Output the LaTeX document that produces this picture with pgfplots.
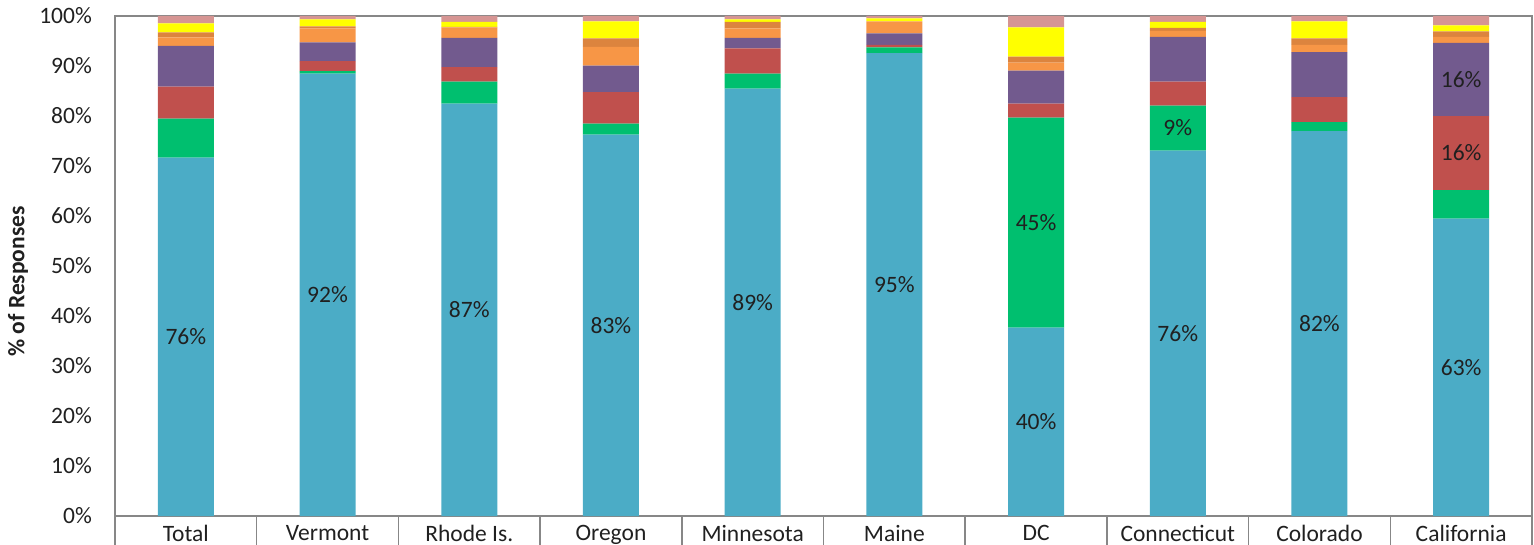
\documentclass[border=0pt]{standalone}
\usepackage{pgfplots}
\pgfplotsset{compat=1.18}
\usepackage{pgfplotstable}
\usepackage{fontspec}
\setmainfont{Carlito}
\definecolor{cblue}{HTML}{4BACC6}
\definecolor{cgreen}{HTML}{00BF6F}
\definecolor{cred}{HTML}{C0504D}
\definecolor{cpurple}{HTML}{725A8E}
\definecolor{clorange}{HTML}{F79646}
\definecolor{cdorange}{HTML}{DC843E}
\definecolor{cyellow}{HTML}{FFFF00}
\definecolor{cpink}{HTML}{D69593}
\definecolor{caxis}{HTML}{878787}
\definecolor{ctext}{HTML}{202020}
\pgfplotstableread{
x blue green red purple lorange dorange yellow pink
0 71.7 7.8  6.4  8.1  1.7 1.0 1.8 1.5
1 88.5 0.5  2.0  3.7  2.8 0.4 1.4 0.7
2 82.5 4.4  2.9  5.8  2.1 0.1 1.0 1.2
3 76.3 2.2  6.3  5.3  3.7 1.7 3.4 1.1
4 85.5 3.0  5.0  2.1  1.9 1.3 0.5 0.7
5 92.6 1.1  0.5  2.3  2.4 0.0 0.6 0.5
6 37.7 42.0 2.8  6.6  1.6 1.2 5.8 2.3
7 73.1 9.0  4.8  8.9  1.2 0.6 1.2 1.2
8 77.0 1.8  5.0  9.0  1.4 1.3 3.4 1.1
9 59.5 5.7  14.8 14.6 1.2 1.1 1.2 1.9
}\data
\begin{document}
\fontsize{23.5}{28}\selectfont
\begin{tikzpicture}
\begin{axis}[
  name=ax,
  scale only axis,
  width=1417pt, height=500pt,
  xmin=-0.5, xmax=9.5, ymin=0, ymax=100,
  ybar stacked,
  bar width=56pt,
  axis line style={draw=caxis, line width=1.5pt},
  ytick={0,10,...,100},
  yticklabels={0\%,10\%,20\%,30\%,40\%,50\%,60\%,70\%,80\%,90\%,100\%},
  ytick style={draw=none},
  xtick={-0.5,0.5,...,9.5},
  xticklabels={},
  xtick pos=bottom,
  xtick style={draw=caxis, line width=1.5pt},
  xtick align=outside,
  major tick length=60pt,
  yticklabel style={anchor=east, inner sep=0pt, xshift=-23pt, text=ctext},
  extra x ticks={0,1,2,3,4,5,6,7,8,9},
  extra x tick labels={Total,Vermont,Rhode Is.,Oregon,Minnesota,Maine,DC,Connecticut,Colorado,California},
  extra x tick style={major tick length=0pt, xticklabel style={anchor=north, inner sep=0pt, yshift=-9pt, text=ctext}},
  ylabel={\bfseries \% of Responses},
  ylabel style={at={(axis description cs:-0.0685,0.469)}, anchor=center, text=ctext},
  clip=false,
]
\addplot[fill=cblue, draw=none] table[x=x,y=blue]{\data};
\addplot[fill=cgreen, draw=none] table[x=x,y=green]{\data};
\addplot[fill=cred, draw=none] table[x=x,y=red]{\data};
\addplot[fill=cpurple, draw=none] table[x=x,y=purple]{\data};
\addplot[fill=clorange, draw=none] table[x=x,y=lorange]{\data};
\addplot[fill=cdorange, draw=none] table[x=x,y=dorange]{\data};
\addplot[fill=cyellow, draw=none] table[x=x,y=yellow]{\data};
\addplot[fill=cpink, draw=none] table[x=x,y=pink]{\data};
\coordinate (l1) at (axis cs:0,35.85);
\coordinate (l2) at (axis cs:1,44.25);
\coordinate (l3) at (axis cs:2,41.25);
\coordinate (l4) at (axis cs:3,38.15);
\coordinate (l5) at (axis cs:4,42.75);
\coordinate (l6) at (axis cs:5,46.3);
\coordinate (l7) at (axis cs:6,18.85);
\coordinate (l8) at (axis cs:6,58.7);
\coordinate (l9) at (axis cs:7,36.55);
\coordinate (l10) at (axis cs:7,77.6);
\coordinate (l11) at (axis cs:8,38.5);
\coordinate (l12) at (axis cs:9,29.75);
\coordinate (l13) at (axis cs:9,72.6);
\coordinate (l14) at (axis cs:9,87.3);
\end{axis}
\node[text=ctext] at (l1) {76\%};
\node[text=ctext] at (l2) {92\%};
\node[text=ctext] at (l3) {87\%};
\node[text=ctext] at (l4) {83\%};
\node[text=ctext] at (l5) {89\%};
\node[text=ctext] at (l6) {95\%};
\node[text=ctext] at (l7) {40\%};
\node[text=ctext] at (l8) {45\%};
\node[text=ctext] at (l9) {76\%};
\node[text=ctext] at (l10) {9\%};
\node[text=ctext] at (l11) {82\%};
\node[text=ctext] at (l12) {63\%};
\node[text=ctext] at (l13) {16\%};
\node[text=ctext] at (l14) {16\%};
\pgfresetboundingbox
\path[use as bounding box] ([xshift=-115pt,yshift=-28pt]ax.south west) rectangle ([xshift=2pt,yshift=16pt]ax.north east);
\end{tikzpicture}
\end{document}
